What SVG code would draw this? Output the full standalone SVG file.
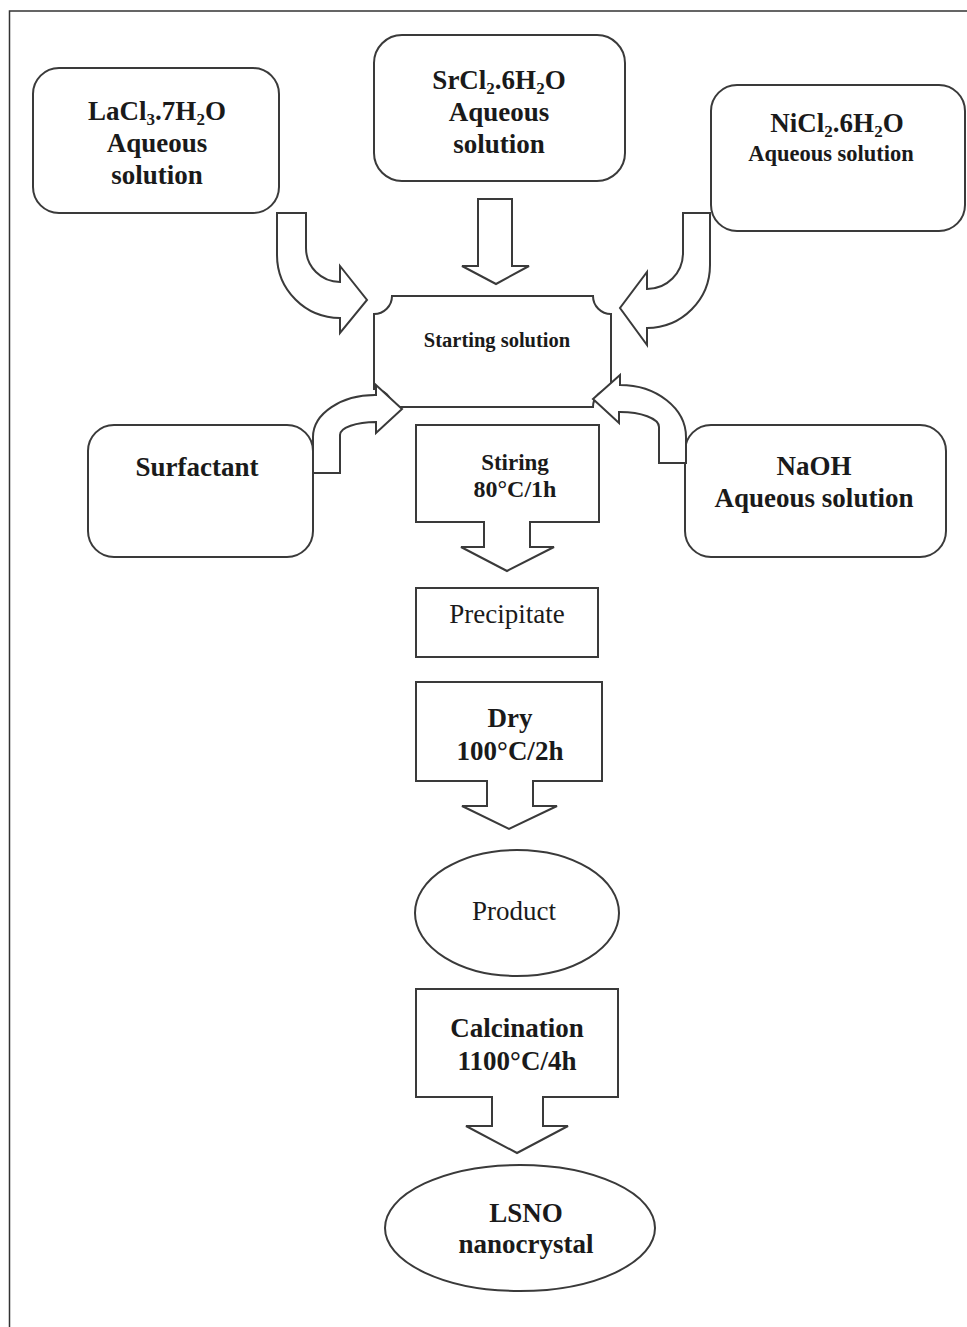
<svg xmlns="http://www.w3.org/2000/svg" width="967" height="1327" viewBox="0 0 967 1327">
<style>
.s{fill:#fff;stroke:#3a3a3a;stroke-width:2;stroke-linejoin:miter}
.t{font-family:"Liberation Serif","Times New Roman",serif;font-weight:bold;fill:#1a1a1a;text-anchor:middle}
.n{font-weight:normal}
</style>
<rect width="967" height="1327" fill="#fff"/>
<path d="M9.5,1327 V11 H967" fill="none" stroke="#333" stroke-width="1.5"/>
<g id="lacl3">
<rect class="s" x="33" y="68" width="246" height="145" rx="26"/>
<text class="t" x="157" y="120" font-size="27">LaCl<tspan font-size="17" dy="5">3</tspan><tspan dy="-5">.7H</tspan><tspan font-size="17" dy="5">2</tspan><tspan dy="-5">O</tspan></text>
<text class="t" x="157" y="152" font-size="27">Aqueous</text>
<text class="t" x="157" y="184" font-size="27">solution</text>
</g>
<g id="srcl2">
<rect class="s" x="374" y="35" width="251" height="146" rx="28"/>
<text class="t" x="499" y="89" font-size="27">SrCl<tspan font-size="17" dy="5">2</tspan><tspan dy="-5">.6H</tspan><tspan font-size="17" dy="5">2</tspan><tspan dy="-5">O</tspan></text>
<text class="t" x="499" y="121" font-size="27">Aqueous</text>
<text class="t" x="499" y="153" font-size="27">solution</text>
</g>
<g id="nicl2">
<rect class="s" x="711" y="85" width="254" height="146" rx="26"/>
<text class="t" x="837" y="132" font-size="27">NiCl<tspan font-size="17" dy="5">2</tspan><tspan dy="-5">.6H</tspan><tspan font-size="17" dy="5">2</tspan><tspan dy="-5">O</tspan></text>
<text class="t" x="831" y="161" font-size="22.5">Aqueous solution</text>
</g>
<g id="starting">
<path class="s" d="M392,296 H593 A18,18 0 0 0 611,314 V389 A18,18 0 0 0 593,407 H392 A18,18 0 0 0 374,389 V314 A18,18 0 0 0 392,296 Z"/>
<text class="t" x="497" y="347" font-size="20.5">Starting solution</text>
</g>
<g id="surfactant">
<rect class="s" x="88" y="425" width="225" height="132" rx="26"/>
<text class="t" x="197" y="476" font-size="27">Surfactant</text>
</g>
<g id="naoh">
<rect class="s" x="685" y="425" width="261" height="132" rx="26"/>
<text class="t" x="814" y="475" font-size="27">NaOH</text>
<text class="t" x="814" y="507" font-size="27">Aqueous solution</text>
</g>
<g id="stiring">
<path class="s" d="M416,425 H599 V522 H530 V547 H554 L507,571 L461,547 H484 V522 H416 Z"/>
<text class="t" x="515" y="470" font-size="23">Stiring</text>
<text class="t" x="515" y="497" font-size="24">80°C/1h</text>
</g>
<g id="precipitate">
<rect class="s" x="416" y="588" width="182" height="69"/>
<text class="t n" x="507" y="623" font-size="27">Precipitate</text>
</g>
<g id="dry">
<path class="s" d="M416,682 H602 V781 H533 V806 H557 L509,829 L462,806 H487 V781 H416 Z"/>
<text class="t" x="510" y="727" font-size="27">Dry</text>
<text class="t" x="510" y="760" font-size="27">100°C/2h</text>
</g>
<g id="product">
<ellipse class="s" cx="517" cy="913" rx="102" ry="63"/>
<text class="t n" x="514" y="920" font-size="27">Product</text>
</g>
<g id="calcination">
<path class="s" d="M416,989 H618 V1097 H543 V1126 H568 L517,1153 L466,1126 H492 V1097 H416 Z"/>
<text class="t" x="517" y="1037" font-size="27">Calcination</text>
<text class="t" x="517" y="1070" font-size="27">1100°C/4h</text>
</g>
<g id="lsno">
<ellipse class="s" cx="520" cy="1228" rx="135" ry="63"/>
<text class="t" x="526" y="1222" font-size="27">LSNO</text>
<text class="t" x="526" y="1253" font-size="27">nanocrystal</text>
</g>
<g id="connectors">
<path class="s" d="M478,199 H512 V266 H529 L496,284 L462,266 H478 Z"/>
<path class="s" d="M277,213 H306 V248 A34,34 0 0 0 340,282 V266 L367,300 L340,333 V318 A63,63 0 0 1 277,255 Z"/>
<path class="s" d="M683,213 V253 A36,36 0 0 1 647,289 V272 L620,308 L647,345 V328 A63,63 0 0 0 710,265 V213 Z"/>
<path class="s" d="M313,473 V437 A62,42 0 0 1 376,395 V385 L402,409 L376,433 V422 A36,13 0 0 0 340,435 V473 Z"/>
<path class="s" d="M686,463 V437 A66,52 0 0 0 620,385 V375 L593,399 L619,423 V412 A39,15 0 0 1 659,427 V463 Z"/>
</g>
</svg>
